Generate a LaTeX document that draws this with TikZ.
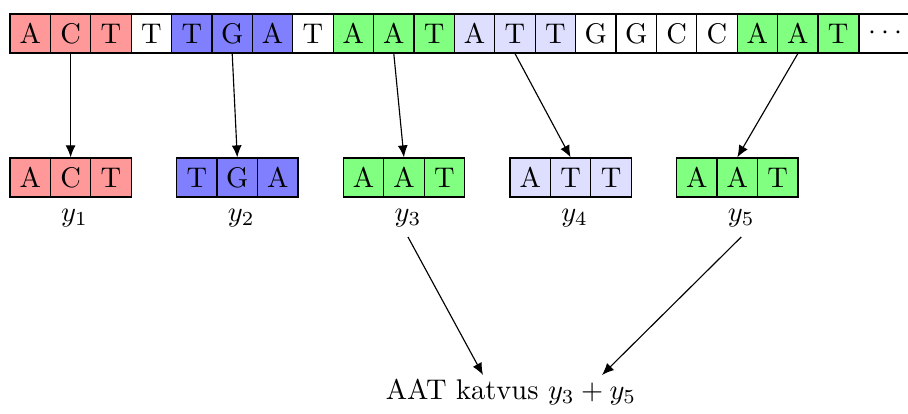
\documentclass[tikz,border=0pt]{standalone}
\usetikzlibrary{arrows.meta}
\definecolor{cred}{RGB}{255,153,153}
\definecolor{cblue}{RGB}{128,128,255}
\definecolor{cgreen}{RGB}{128,255,128}
\definecolor{clav}{RGB}{222,222,255}
\begin{document}
\begin{tikzpicture}[x=0.3514pt,y=-0.3514pt,
  cell/.style={draw, line width=0.45pt, minimum width=14.2pt, minimum height=13.7pt, inner sep=0pt, anchor=center},
  arr/.style={-{Latex[length=4.2pt,width=3.5pt]}}]
\useasboundingbox (0,0) rectangle (908,414);
% the sequence
\foreach \ch/\col [count=\i] in {A/cred,C/cred,T/cred,T/white,T/cblue,G/cblue,A/cblue,T/white,
  A/cgreen,A/cgreen,T/cgreen,A/clav,T/clav,T/clav,G/white,G/white,C/white,C/white,
  A/cgreen,A/cgreen,T/cgreen}
  \node[cell, fill=\col] (t\i) at ({10+40.4*(\i-0.5)},33.5) {\ch};
\node[cell, minimum width=18.6pt, anchor=west] (t22) at (858.4,33.5) {$\cdots$};
% the extracted triplets
\foreach \a/\b/\c/\col [count=\k] in {A/C/T/cred, T/G/A/cblue, A/A/T/cgreen, A/T/T/clav, A/A/T/cgreen} {
  \pgfmathsetmacro\lx{10+166.67*(\k-1)}
  \node[cell, fill=\col] (b\k a) at ({\lx+20.2},177.5) {\a};
  \node[cell, fill=\col] (b\k b) at ({\lx+60.6},177.5) {\b};
  \node[cell, fill=\col] (b\k c) at ({\lx+101},177.5) {\c};
  \node (y\k) at ({\lx+64.6},218) {$y_{\k}$};
}
\draw[arr] (t2.south) -- (b1b.north);
\draw[arr] (t6.south) -- (b2b.north);
\draw[arr] (t10.south) -- (b3b.north);
\draw[arr] (t13.south) -- (b4b.north);
\draw[arr] (t20.south) -- (b5b.north);
% the sum
\node (res) at (511,392) {AAT katvus $y_3+y_5$};
\coordinate (p3) at (483,375);
\coordinate (p5) at (602,375);
\draw[arr] (y3.south) -- (p3);
\draw[arr] (y5.south) -- (p5);
\end{tikzpicture}
\end{document}
